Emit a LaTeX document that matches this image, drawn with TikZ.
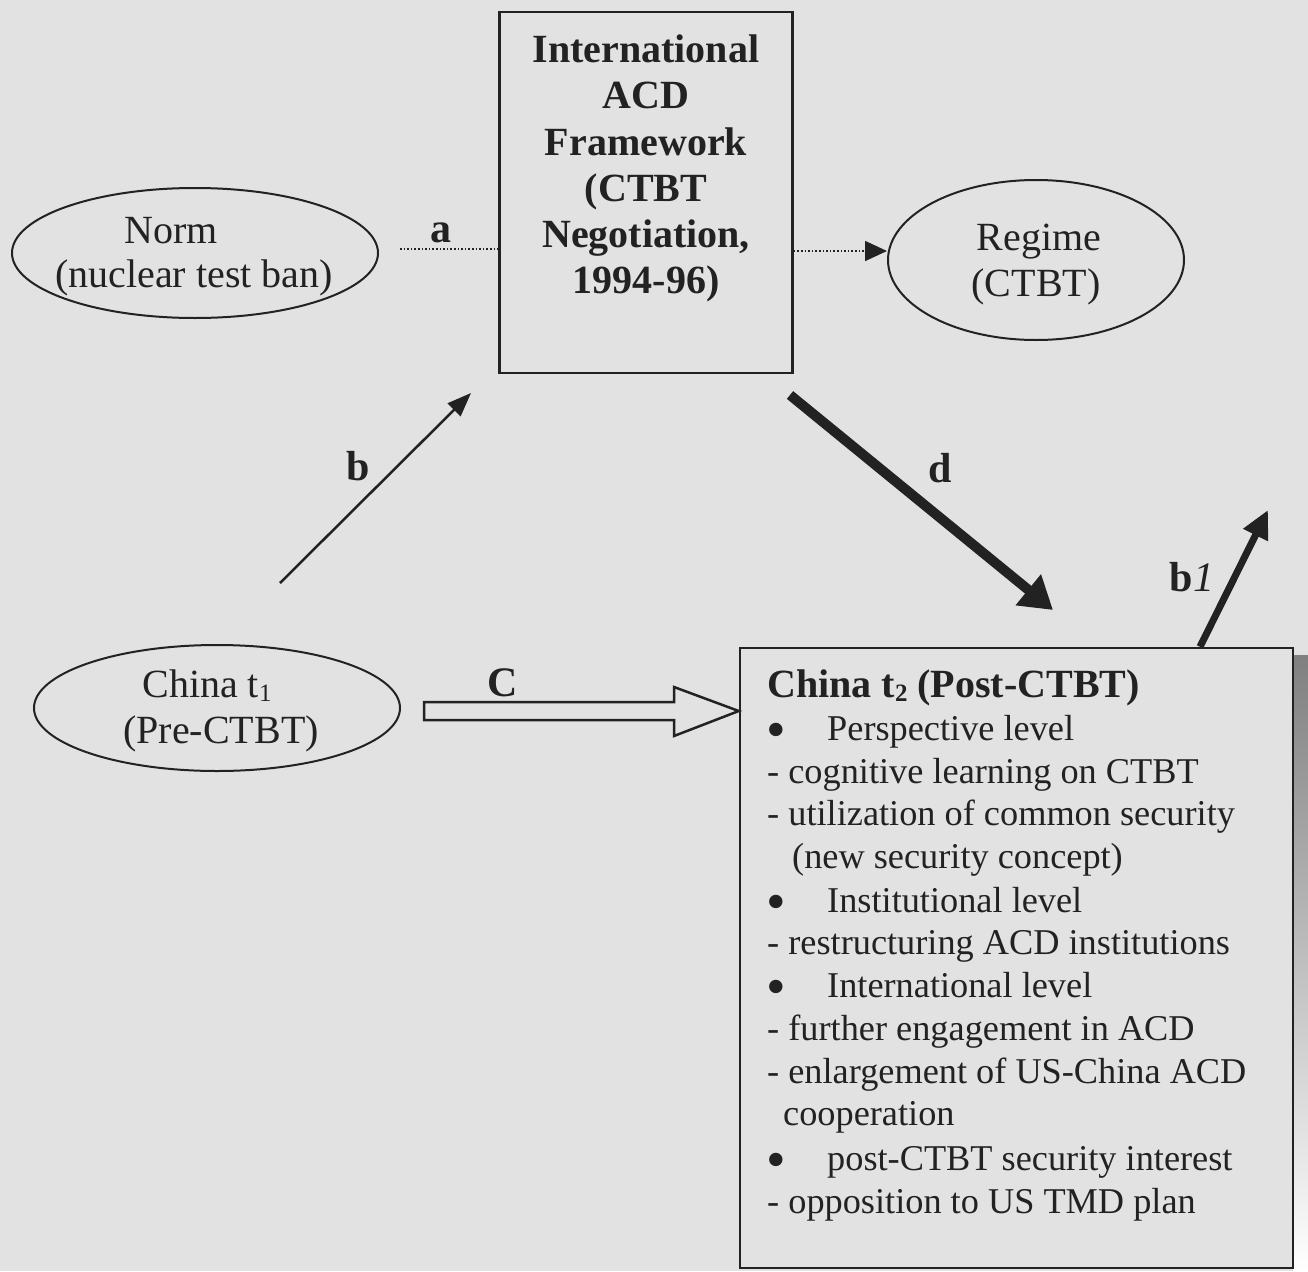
\documentclass[tikz,border=0pt]{standalone}
\usepackage{fontspec}
\setmainfont{Liberation Serif}
\usetikzlibrary{arrows.meta,shapes.geometric}
\definecolor{bgc}{HTML}{E2E2E2}
\definecolor{ink}{HTML}{222222}
\definecolor{shade}{HTML}{6A6A6A}
\newcommand{\lowsub}[1]{\raisebox{-4pt}{\fontsize{25}{25}\selectfont #1}}
\begin{document}
\begin{tikzpicture}[x=1pt,y=-1pt,
  every node/.style={text=ink},
  oval/.style={draw=ink, line width=2pt, ellipse, inner sep=0pt},
  big/.style={font=\fontsize{40}{46}\selectfont, anchor=base, inner sep=0pt},
  bigb/.style={font=\fontsize{40}{46}\selectfont\bfseries, anchor=base, inner sep=0pt},
  lab/.style={font=\fontsize{42}{46}\selectfont\bfseries, inner sep=0pt},
  small/.style={font=\fontsize{36.3}{42.8}\selectfont, anchor=base west, inner sep=0pt},
  bul/.style={font=\fontsize{56}{56}\selectfont, anchor=base west, inner sep=0pt},
  frame/.style={draw=ink, line width=2.5pt, inner sep=0pt},
]
\fill[bgc] (0,0) rectangle (1308,1271);
\useasboundingbox (0,0) rectangle (1308,1271);

% ovals
\node[oval, minimum width=366pt, minimum height=130pt] (norm) at (195,253) {};
\node[big] (normA) at (171,243) {Norm};
\node[big] (normB) at (194,287) {(nuclear test ban)};

\node[oval, minimum width=296pt, minimum height=160pt] (regime) at (1036,260) {};
\node[big] (regA) at (1039,250) {Regime};
\node[big] (regB) at (1036,296) {(CTBT)};

\node[oval, minimum width=366pt, minimum height=126pt] (china1) at (217,708) {};
\node[big] (chA) at (207,697) {China t\lowsub{1}};
\node[big] (chB) at (221,743) {(Pre-CTBT)};

% framework box
\node[frame, minimum width=293pt, minimum height=361pt] (fw) at (646,192.5) {};
\foreach \t [count=\i] in {International, ACD, Framework, {(CTBT}, {Negotiation,}, {1994-96)}}
  \node[bigb] (fw\i) at (646,{17+46*\i}) {\t};

% China t2 box with shadow
\fill[shade] (1293,655) rectangle (1308,1271);
\node[frame, fill=bgc, minimum width=553pt, minimum height=620pt] (china2) at (1016.5,958) {};
\node[font=\fontsize{40}{42}\selectfont\bfseries, anchor=base west, inner sep=0pt] (c2t) at (767,697) {China t\lowsub{\bfseries 2} (Post-CTBT)};
\foreach \y [count=\i] in {740,912,997,1170}
  \node[bul] (bu\i) at (766,{\y+8}) {\smash{\textbullet}};
\foreach \x/\y/\t [count=\i] in {
  827/740/Perspective level,
  767/783/- cognitive learning on CTBT,
  767/825/- utilization of common security,
  792/868/{(new security concept)},
  827/912/Institutional level,
  767/954/- restructuring ACD institutions,
  827/997/International level,
  767/1040/- further engagement in ACD,
  767/1083/- enlargement of US-China ACD,
  783/1125/cooperation,
  827/1170/post-CTBT security interest,
  767/1213/- opposition to US TMD plan}
  \node[small] (ln\i) at (\x,\y) {\t};

% a : dotted line into framework
\coordinate (a0) at (400,249);
\draw[ink, dotted, line width=1.6pt] (a0) -- (a0 -| fw.west);
\node[lab] (la) at (441,233) {a};

% dotted arrow to regime
\draw[ink, dotted, line width=1.6pt, -{Triangle[length=22pt,width=20pt]}] (fw.east |- 0,251) -- ([yshift=9pt]regime.west);

% b arrow
\coordinate (bS) at (280,583);
\coordinate (bE) at (471,393);
\draw[ink, line width=2.5pt, -{Triangle[length=24pt,width=18pt]}] (bS) -- (bE);
\node[lab] (lb) at (358,466) {b};

% d arrow
\coordinate (dS) at (790,395);
\coordinate (dE) at (1053,610);
\draw[ink, line width=10pt, -{Triangle[length=32pt,width=38pt]}] (dS) -- (dE);
\node[lab] (ld) at (940,468) {d};

% b1 arrow
\coordinate (b1E) at (1268,510);
\draw[ink, line width=7pt, -{Triangle[length=28pt,width=26pt]}] (china2.north -| 1200,0) -- (b1E);
\node[font=\fontsize{42}{46}\selectfont, inner sep=0pt] (lb1) at (1192,577) {\textbf{b}\textit{1}};

% C hollow arrow
\draw[ink, line width=2.5pt, line join=miter] (424,702) -- (674,702) -- (674,687) -- (china2.west |- 0,711) -- (674,736) -- (674,720) -- (424,720) -- cycle;
\node[lab] (lc) at (503,683) {C};
\end{tikzpicture}
\end{document}
